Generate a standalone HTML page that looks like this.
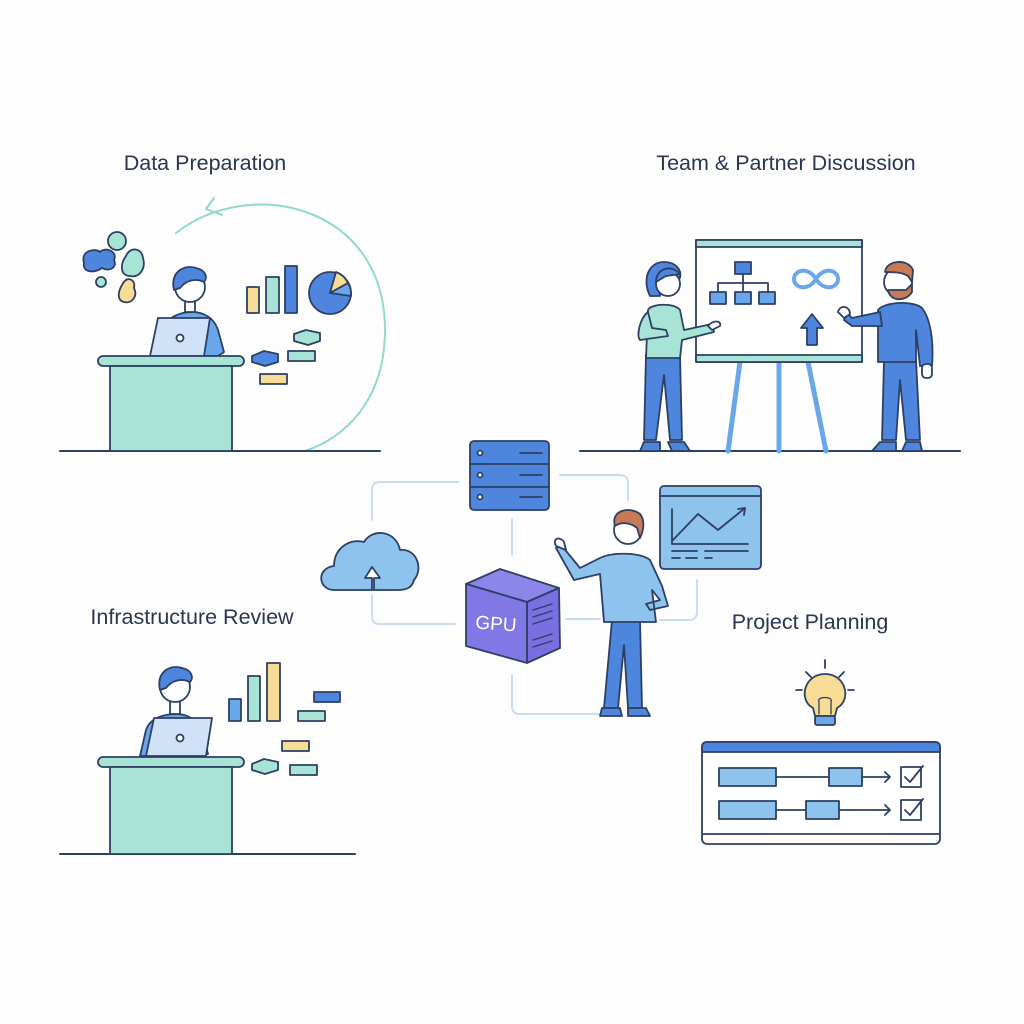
<!DOCTYPE html>
<html><head><meta charset="utf-8"><style>
html,body{margin:0;padding:0;background:#fdfdfe;}
svg{display:block}
text{font-family:"Liberation Sans",sans-serif;fill:#2b3550;}
</style></head><body>
<svg width="1024" height="1024" viewBox="0 0 1024 1024" xmlns="http://www.w3.org/2000/svg">
<rect width="1024" height="1024" fill="#fdfdfe"/>
<g stroke="#2d3f63" stroke-width="1.8" stroke-linejoin="round" stroke-linecap="round">

<g stroke="none" font-size="21.5">
<text x="205" y="170" text-anchor="middle">Data Preparation</text>
<text x="786" y="170" text-anchor="middle">Team &amp; Partner Discussion</text>
<text x="192" y="624" text-anchor="middle">Infrastructure Review</text>
<text x="810" y="629" text-anchor="middle">Project Planning</text>
</g>

<!-- ===== Data Preparation ===== -->
<path d="M176 233 C250 175 385 205 385 330 C385 400 345 438 305 451" fill="none" stroke="#8fdcc2" stroke-width="2"/>
<path d="M214 198 L206 209 L222 215" fill="none" stroke="#8fdcc2" stroke-width="2"/>
<line x1="60" y1="451" x2="380" y2="451" stroke-width="2"/>
<path d="M84 263 C80 250 96 248 100 252 C106 246 118 252 114 260 C118 268 108 272 102 268 C94 274 82 272 84 263Z" fill="#4d86dc"/>
<circle cx="117" cy="241" r="9" fill="#a8e4d6"/>
<path d="M126 256 C130 246 142 248 143 258 C146 268 140 278 130 276 C120 276 120 264 126 256Z" fill="#a8e4d6"/>
<circle cx="101" cy="282" r="5" fill="#a8e4d6"/>
<path d="M124 282 C128 276 136 280 134 288 C138 296 132 304 124 302 C116 300 118 290 124 282Z" fill="#f6dc95"/>
<path d="M160 356 L164 328 C168 316 182 312 192 312 C204 312 214 318 218 330 L224 352 L218 356Z" fill="#6aa7ea"/>
<rect x="185" y="298" width="10" height="14" fill="#fff"/>
<circle cx="190" cy="287" r="15" fill="#fff"/>
<path d="M174 290 C170 272 184 264 196 268 C206 270 208 278 204 282 C196 278 186 280 180 288Z" fill="#4d86dc"/>
<path d="M150 356 L158 318 L210 318 L204 356Z" fill="#cfe2f8"/>
<circle cx="180" cy="338" r="3.5" fill="#fff"/>
<rect x="98" y="356" width="146" height="10" rx="5" fill="#a8e4d6"/>
<rect x="110" y="366" width="122" height="85" fill="#a8e4d6"/>
<rect x="247" y="287" width="12" height="26" fill="#f6dc95"/>
<rect x="266" y="277" width="13" height="36" fill="#a8e4d6"/>
<rect x="285" y="266" width="12" height="47" fill="#4d86dc"/>
<circle cx="330" cy="293" r="21" fill="#4d86dc"/>
<path d="M330 293 L336 272 A21 21 0 0 1 348 283Z" fill="#f6dc95"/>
<path d="M330 293 L348 283 A21 21 0 0 1 351 296Z" fill="#6aa7ea"/>
<path d="M294 334 L306 330 L320 333 L320 341 L308 345 L294 341Z" fill="#a8e4d6"/>
<path d="M252 356 L264 351 L278 354 L278 362 L265 366 L252 362Z" fill="#4d86dc"/>
<rect x="288" y="351" width="27" height="10" fill="#a8e4d6"/>
<rect x="260" y="374" width="27" height="10" fill="#f6dc95"/>

<!-- ===== Infrastructure Review ===== -->
<line x1="60" y1="854" x2="355" y2="854" stroke-width="2"/>
<path d="M140 756 L146 730 C150 718 164 714 176 714 C188 714 198 720 202 732 L208 754 L200 756Z" fill="#6aa7ea"/>
<rect x="170" y="700" width="10" height="14" fill="#fff"/>
<circle cx="175" cy="687" r="15" fill="#fff"/>
<path d="M160 690 C156 672 170 664 182 668 C192 670 194 678 190 682 C182 678 172 680 166 688Z" fill="#4d86dc"/>
<path d="M146 756 L154 718 L212 718 L206 756Z" fill="#cfe2f8"/>
<circle cx="180" cy="738" r="3.5" fill="#fff"/>
<rect x="98" y="757" width="146" height="10" rx="5" fill="#a8e4d6"/>
<rect x="110" y="767" width="122" height="87" fill="#a8e4d6"/>
<rect x="229" y="699" width="12" height="22" fill="#6aa7ea"/>
<rect x="248" y="676" width="12" height="45" fill="#a8e4d6"/>
<rect x="267" y="663" width="13" height="58" fill="#f6dc95"/>
<rect x="314" y="692" width="26" height="10" fill="#4d86dc"/>
<rect x="298" y="711" width="27" height="10" fill="#a8e4d6"/>
<rect x="282" y="741" width="27" height="10" fill="#f6dc95"/>
<path d="M252 764 L264 759 L278 762 L278 770 L265 774 L252 770Z" fill="#a8e4d6"/>
<rect x="290" y="765" width="27" height="10" fill="#a8e4d6"/>

<!-- ===== Team Discussion ===== -->
<line x1="580" y1="451" x2="960" y2="451" stroke-width="2"/>
<line x1="740" y1="362" x2="728" y2="451" stroke="#6aa7ea" stroke-width="5"/>
<line x1="779" y1="362" x2="779" y2="451" stroke="#6aa7ea" stroke-width="5"/>
<line x1="808" y1="362" x2="826" y2="451" stroke="#6aa7ea" stroke-width="5"/>
<rect x="696" y="240" width="166" height="122" fill="#fff"/>
<rect x="696" y="240" width="166" height="7" fill="#a8e4d6"/>
<rect x="696" y="355" width="166" height="7" fill="#a8e4d6"/>
<rect x="735" y="262" width="16" height="12" fill="#4d86dc"/>
<path d="M743 274 V283 M718 283 H768 M718 283 V292 M743 283 V292 M768 283 V292" fill="none"/>
<rect x="710" y="292" width="16" height="12" fill="#6aa7ea"/>
<rect x="735" y="292" width="16" height="12" fill="#6aa7ea"/>
<rect x="759" y="292" width="16" height="12" fill="#6aa7ea"/>
<path d="M816 279 C808 266 794 270 794 279 C794 288 808 292 816 279 C824 266 838 270 838 279 C838 288 824 292 816 279Z" fill="none" stroke="#6aa7ea" stroke-width="4"/>
<path d="M812 314 L801 328 L807 328 L807 345 L817 345 L817 328 L823 328Z" fill="#4d86dc"/>
<!-- woman -->
<path d="M646 355 L644 440 L656 440 L664 375 L670 440 L682 440 L680 355Z" fill="#4d86dc"/>
<path d="M644 442 L660 442 L660 451 L640 451Z M668 442 L684 442 L690 451 L672 451Z" fill="#4d86dc"/>
<path d="M646 358 L648 310 C650 304 674 302 680 310 L684 330 L712 324 L714 332 L682 340 L680 358Z" fill="#a8e4d6"/>
<path d="M648 312 C640 318 636 336 640 340 L668 336 L666 330 L652 328Z" fill="#a8e4d6"/>
<path d="M650 296 C642 280 648 262 664 262 C676 262 682 270 680 278 L660 278 L660 296Z" fill="#4d86dc"/>
<circle cx="668" cy="284" r="12" fill="#fff"/>
<path d="M656 282 C656 268 672 264 680 274 L666 276Z" fill="#4d86dc"/>
<path d="M708 326 C712 320 722 320 720 326 L712 330Z" fill="#fff"/>
<!-- man -->
<path d="M884 360 L882 440 L896 440 L900 380 L906 440 L920 440 L916 360Z" fill="#4d86dc"/>
<path d="M880 442 L896 442 L896 451 L872 451Z M906 442 L920 442 L922 451 L902 451Z" fill="#4d86dc"/>
<path d="M878 362 L878 310 C884 302 912 300 922 308 C930 318 934 340 932 366 L920 366 L916 330 L916 362Z" fill="#4d86dc"/>
<path d="M880 312 L852 318 L846 312 L844 320 L852 326 L882 326Z" fill="#4d86dc"/>
<path d="M838 312 C840 304 850 306 850 314 L844 318Z" fill="#fff"/>
<rect x="922" y="364" width="10" height="14" rx="4" fill="#fff"/>
<circle cx="898" cy="282" r="14" fill="#fff"/>
<path d="M888 290 C890 302 906 302 912 292 L912 284 L906 290 L892 290Z" fill="#c77a55"/>
<path d="M885 272 C886 260 908 258 913 270 L912 282 L908 276 C902 272 892 272 885 272Z" fill="#c77a55"/>

<!-- ===== Center ===== -->
<g fill="none" stroke="#c9dcf2" stroke-width="2">
<path d="M458 482 H380 Q372 482 372 490 V520"/>
<path d="M372 595 V616 Q372 624 380 624 H455"/>
<path d="M560 475 H620 Q628 475 628 483 V500"/>
<path d="M512 519 V555"/>
<path d="M512 675 V706 Q512 714 520 714 H604"/>
<path d="M566 619 H600"/>
<path d="M697 580 V612 Q697 620 689 620 H660"/>
</g>
<rect x="470" y="441" width="79" height="69" rx="4" fill="#4d86dc"/>
<path d="M470 464 H549 M470 487 H549" fill="none"/>
<circle cx="480" cy="453" r="2.5" fill="#fff"/><circle cx="480" cy="475" r="2.5" fill="#fff"/><circle cx="480" cy="497" r="2.5" fill="#fff"/>
<path d="M520 453 H542 M520 475 H542 M520 497 H542" fill="none"/>
<path d="M334 590 C318 590 316 568 334 566 C334 548 350 538 364 542 C372 528 396 530 400 550 C416 548 424 568 414 580 C412 588 406 590 398 590Z" fill="#8ec3ee"/>
<path d="M372 590 V578 H365 L372 567 L380 578 H374 V590" fill="#fff"/>
<path d="M466 584 L500 569 L559 588 L527 602Z" fill="#8c85ea"/>
<path d="M527 602 L559 588 L560 648 L527 663Z" fill="#7a6fe0"/>
<path d="M466 584 L527 602 L527 663 L466 646Z" fill="#8178e6"/>
<path d="M533 610 L552 604 M533 617 L552 611 M533 624 L552 618 M533 640 L552 634 M533 647 L552 641" fill="none" stroke-width="1.4"/>
<text x="496" y="630" text-anchor="middle" font-size="19" stroke="none" style="fill:#fff" transform="rotate(4 496 624)">GPU</text>
<rect x="660" y="486" width="101" height="83" rx="4" fill="#8ec3ee"/>
<path d="M660 496 H761" fill="none"/>
<path d="M672 509 V544 H748 M672 541 L698 514 L718 530 L745 508 M738 509 L745 508 L744 515" fill="none"/>
<path d="M672 551 H697 M705 551 H748 M672 558 H680 M686 558 H697 M705 558 H712" fill="none"/>
<path d="M612 620 L604 708 L618 708 L624 645 L628 708 L642 708 L640 620Z" fill="#4d86dc"/>
<path d="M602 708 L620 708 L622 716 L600 716Z M628 708 L646 708 L650 716 L628 716Z" fill="#4d86dc"/>
<path d="M600 558 L580 568 L562 546 L556 548 L574 580 L600 574 L604 622 L656 622 L652 590 L660 600 L646 604 L650 610 L668 606 L662 586 L650 560 C640 552 612 552 600 558Z" fill="#8ec3ee"/>
<path d="M556 546 C552 538 560 536 564 542 L566 550Z" fill="#fff"/>
<circle cx="628" cy="530" r="14" fill="#fff"/>
<path d="M615 526 C610 510 630 506 640 514 C645 520 644 530 640 538 L637 528 C630 522 620 522 615 526Z" fill="#c77a55"/>

<!-- ===== Project Planning ===== -->
<path d="M825 660 V668 M806 672 L811 677 M844 672 L839 677 M796 690 H802 M848 690 H854" fill="none"/>
<path d="M813 708 C798 700 804 674 825 674 C846 674 852 700 837 708 L835 716 L815 716Z" fill="#f6dc95"/>
<path d="M819 714 V702 M831 714 V702 M819 702 C816 696 834 696 831 702" fill="none" stroke-width="1.3"/>
<rect x="815" y="716" width="20" height="9" rx="2" fill="#6aa7ea"/>
<rect x="702" y="742" width="238" height="102" rx="5" fill="#fff"/>
<path d="M702 752 V747 Q702 742 707 742 H935 Q940 742 940 747 V752Z" fill="#4d86dc"/>
<path d="M702 834 H940" fill="none"/>
<rect x="719" y="768" width="57" height="18" fill="#8ec3ee"/>
<rect x="829" y="768" width="33" height="18" fill="#8ec3ee"/>
<rect x="719" y="801" width="57" height="18" fill="#8ec3ee"/>
<rect x="806" y="801" width="33" height="18" fill="#8ec3ee"/>
<path d="M776 777 H829 M862 777 H890 M885 772 L890 777 L885 782 M776 810 H806 M839 810 H890 M885 805 L890 810 L885 815" fill="none"/>
<rect x="901" y="767" width="20" height="20" fill="#fff"/>
<rect x="901" y="800" width="20" height="20" fill="#fff"/>
<path d="M905 777 L910 782 L923 766 M905 810 L910 815 L923 799" fill="none"/>
</g>
</svg>
</body></html>
